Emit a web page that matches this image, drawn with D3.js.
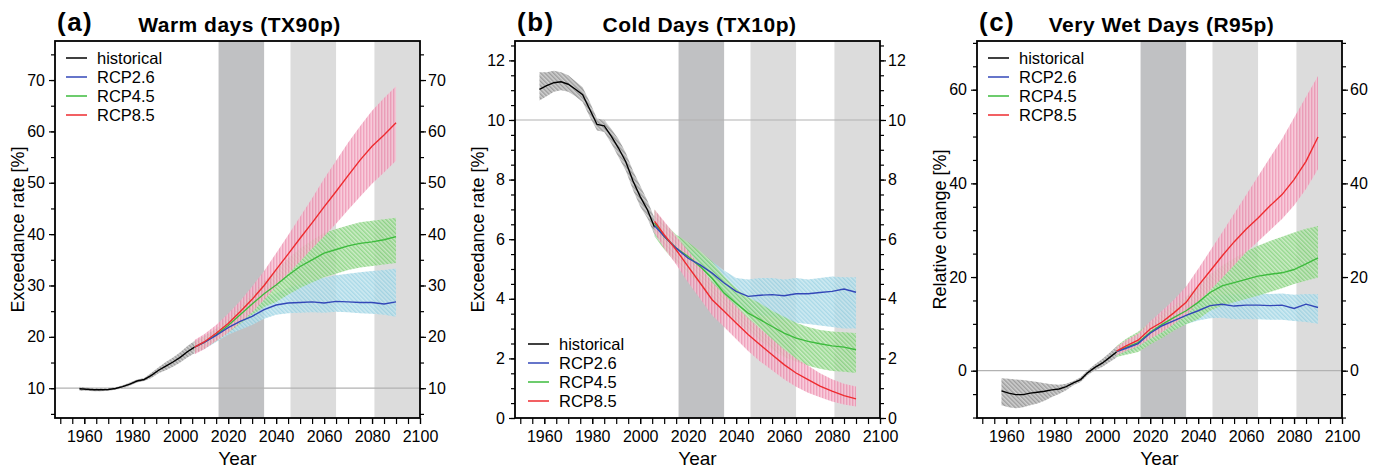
<!DOCTYPE html>
<html><head><meta charset="utf-8">
<script src="https://cdn.jsdelivr.net/npm/d3@7"></script>
<style>
body{margin:0;background:#fff}
svg{display:block}
text{font-family:"Liberation Sans",Arial,Helvetica,sans-serif;fill:#000}
</style>
</head><body>
<svg id="chart" width="1384" height="470"></svg>
<script>
// ---------------- data ----------------
const histYears = [1958,1961,1964,1967,1970,1973,1976,1979,1982,1985,1988,1991,1994,1997,2000,2003,2006];
const rcpYears  = [2006,2010,2015,2020,2025,2030,2035,2040,2045,2050,2055,2060,2065,2070,2075,2080,2085,2090];

const periodStart = [2016, 2046, 2081];
const periodEnd   = [2035, 2065, 2100];

const seriesNames = ["historical","RCP2.6","RCP4.5","RCP8.5"];
const panelLetters = ["(a)","(b)","(c)"];
const panelTitles = ["Warm days (TX90p)","Cold Days (TX10p)","Very Wet Days (R95p)"];
const yTitles = ["Exceedance rate [%]","Exceedance rate [%]","Relative change [%]"];
const xTickLabels = [1960,1980,2000,2020,2040,2060,2080,2100];
const xMinorTicks = d3.range(1950, 2101, 5);
const yTicksA = [10,20,30,40,50,60,70];
const yTicksB = [0,2,4,6,8,10,12];
const yTicksC = [0,20,40,60];
const refLevels = [10, 10, 0];

// Panel (a) Warm days
const histA   = [9.9,9.8,9.7,9.7,9.75,9.95,10.3,10.8,11.4,11.7,12.5,13.5,14.3,15.1,16.0,17.1,18.0];
const histALo = [9.5,9.5,9.4,9.4,9.5,9.7,10.0,10.5,11.1,11.4,12.0,12.9,13.5,14.2,15.0,16.0,16.8];
const histAHi = [10.3,10.1,10.0,10.0,10.0,10.2,10.6,11.1,11.7,12.0,13.0,14.1,15.1,16.0,17.0,18.2,19.2];
const r26A   = [18.0,18.9,20.3,21.8,23.0,24.0,25.3,26.2,26.6,26.7,26.8,26.6,26.9,26.8,26.7,26.7,26.4,26.8];
const r26ALo = [16.8,17.6,19.0,20.4,21.4,22.3,23.5,24.3,24.6,24.7,24.8,24.7,24.9,24.8,24.6,24.5,24.3,23.9];
const r26AHi = [19.2,20.2,21.6,23.2,24.8,26.0,27.5,28.5,29.5,30.3,31.0,31.5,32.0,32.3,32.6,32.8,33.0,33.3];
const r45A   = [18.0,18.9,20.4,22.2,24.3,26.4,28.4,30.1,32.0,33.7,35.0,36.3,37.0,37.7,38.2,38.5,38.9,39.5];
const r45ALo = [16.9,17.7,19.2,20.8,22.5,24.3,25.8,26.8,28.2,29.5,30.6,31.6,32.3,33.0,33.5,33.8,34.1,34.4];
const r45AHi = [19.1,20.1,21.6,23.6,26.0,28.4,30.8,33.0,35.3,37.2,38.8,40.2,41.0,41.7,42.3,42.6,42.9,43.2];
const r85A   = [18.0,19.0,20.7,22.6,24.9,27.3,30.0,33.1,36.1,39.2,42.2,45.3,48.3,51.4,54.4,57.1,59.3,61.7];
const r85ALo = [16.6,17.6,19.2,20.8,22.8,24.8,27.2,29.8,32.3,34.7,37.2,39.6,42.0,44.7,47.3,49.8,52.0,54.3];
const r85AHi = [19.4,20.5,22.3,24.5,27.0,29.8,32.8,36.3,39.8,43.4,47.0,50.8,54.3,57.8,61.0,64.0,66.5,68.8];

// Panel (b) Cold days
const histB   = [11.03,11.15,11.25,11.28,11.2,11.03,10.85,10.35,9.85,9.8,9.45,9.05,8.6,7.95,7.43,6.99,6.4];
const histBLo = [10.65,10.8,10.95,11.0,10.95,10.8,10.6,10.1,9.65,9.6,9.2,8.75,8.3,7.65,7.1,6.7,6.15];
const histBHi = [11.6,11.6,11.65,11.6,11.5,11.3,11.1,10.6,10.05,10.0,9.7,9.35,8.9,8.3,7.8,7.3,6.7];
const r26B   = [6.45,6.1,5.7,5.36,5.14,4.86,4.53,4.25,4.08,4.12,4.14,4.1,4.17,4.17,4.21,4.25,4.33,4.22];
const r26BLo = [6.1,5.75,5.35,5.0,4.7,4.4,4.05,3.75,3.55,3.45,3.4,3.3,3.2,3.15,3.1,3.05,3.0,3.0];
const r26BHi = [6.8,6.45,6.05,5.7,5.5,5.25,4.95,4.7,4.65,4.7,4.7,4.65,4.7,4.65,4.7,4.75,4.72,4.72];
const r45B   = [6.54,6.09,5.7,5.42,5.08,4.69,4.19,3.85,3.52,3.30,3.07,2.85,2.68,2.57,2.49,2.42,2.38,2.29];
const r45BLo = [6.1,5.65,5.2,4.85,4.5,4.05,3.6,3.25,2.9,2.6,2.3,2.05,1.9,1.75,1.65,1.58,1.55,1.51];
const r45BHi = [7.0,6.55,6.15,5.9,5.6,5.25,4.75,4.35,4.05,3.85,3.6,3.4,3.2,3.05,2.95,2.9,2.88,2.85];
const r85B   = [6.6,6.15,5.64,5.08,4.53,3.97,3.58,3.19,2.80,2.46,2.12,1.79,1.51,1.29,1.07,0.90,0.75,0.64];
const r85BLo = [6.2,5.7,5.15,4.55,4.0,3.45,3.05,2.65,2.25,1.9,1.6,1.3,1.05,0.85,0.7,0.55,0.45,0.39];
const r85BHi = [7.0,6.6,6.1,5.6,5.1,4.55,4.15,3.75,3.35,3.0,2.65,2.3,2.0,1.75,1.5,1.3,1.15,1.06];

// Panel (c) Very wet days
const histC   = [-4.3,-4.8,-5.1,-5.1,-4.8,-4.6,-4.4,-4.1,-3.9,-3.4,-2.6,-1.9,-0.4,0.7,1.6,2.8,4.0];
const histCLo = [-7.4,-7.8,-8.0,-7.8,-7.4,-7.0,-6.4,-5.6,-5.0,-4.2,-3.1,-2.4,-0.9,0.1,0.8,1.8,2.8];
const histCHi = [-1.6,-1.7,-1.9,-2.0,-2.2,-2.4,-2.7,-2.9,-3.0,-2.8,-2.2,-1.4,0.1,1.4,2.5,3.8,5.2];
const r26C   = [4.1,4.8,5.8,8.0,9.6,10.7,11.8,12.8,13.9,14.2,13.8,14.0,14.0,13.9,14.0,13.3,14.2,13.5];
const r26CLo = [3.2,3.6,4.5,6.3,7.8,8.9,9.9,10.7,11.2,11.3,11.0,11.0,11.0,10.9,10.9,10.6,10.4,10.0];
const r26CHi = [5.0,6.0,7.2,9.6,11.2,12.6,13.8,15.0,15.8,16.2,16.3,16.4,16.5,16.4,16.5,16.2,16.4,16.3];
const r45C   = [4.1,5.0,6.0,8.2,9.9,11.4,12.8,14.6,16.7,18.1,18.8,19.5,20.2,20.6,20.9,21.6,22.8,24.1];
const r45CLo = [2.9,3.4,4.0,5.6,7.0,8.6,9.9,11.0,12.8,13.9,14.6,15.3,16.0,16.8,17.6,18.5,19.2,19.9];
const r45CHi = [5.3,6.8,8.3,10.3,12.3,14.0,15.8,18.1,20.6,22.4,24.0,25.5,26.7,27.7,28.6,29.5,30.3,30.9];
const r85C   = [4.2,5.3,6.5,8.9,10.4,12.4,14.6,18.1,21.3,24.5,27.5,30.2,32.6,35.2,37.6,40.8,44.7,49.9];
const r85CLo = [3.3,4.2,5.2,6.8,8.2,10.0,11.8,14.6,17.2,19.8,22.5,25.3,27.6,30.0,32.4,35.3,38.8,43.0];
const r85CHi = [5.1,6.5,7.9,10.5,12.8,15.2,18.0,21.7,25.6,29.5,33.5,37.5,41.5,45.5,49.5,54.0,58.5,62.9];

// ---------------- layout / style ----------------
const svg = d3.select("#chart");
const defs = svg.append("defs");
const TOP = 41, BOTTOM = 418, PW = 365;
const lefts = [55, 515, 977];
const lineColors = ["#000000","#3347b8","#3dbb3d","#ee2b2f"];
const hatchDefs = [
  {id:"h-hist", bg:"#cdcdcd", fg:"#8e8e8e", ang:-45},
  {id:"h-r26", bg:"#c6e6ef", fg:"#8ccde0", ang:-45},
  {id:"h-r45", bg:"#c2e8ba", fg:"#6fca66", ang:-45},
  {id:"h-r85", bg:"#f6c0d2", fg:"#ec86aa", ang:0}
];
hatchDefs.forEach(h => {
  const p = defs.append("pattern").attr("id", h.id).attr("patternUnits","userSpaceOnUse")
    .attr("width",3).attr("height",3).attr("patternTransform",`rotate(${h.ang})`);
  p.append("rect").attr("width",3).attr("height",3).attr("fill",h.bg);
  p.append("line").attr("x1",0.75).attr("y1",0).attr("x2",0.75).attr("y2",3)
    .attr("stroke",h.fg).attr("stroke-width",1.2);
});

const panels = [
  {dom:[4.2,77.6], major:yTicksA, minor:d3.range(5,76,5), hist:[histA,histALo,histAHi],
   rcp:[[r26A,r26ALo,r26AHi],[r45A,r45ALo,r45AHi],[r85A,r85ALo,r85AHi]], legend:"top"},
  {dom:[0,12.65], major:yTicksB, minor:d3.range(0,12.6,0.5), hist:[histB,histBLo,histBHi],
   rcp:[[r26B,r26BLo,r26BHi],[r45B,r45BLo,r45BHi],[r85B,r85BLo,r85BHi]], legend:"bottom"},
  {dom:[-10.1,70.4], major:yTicksC, minor:d3.range(-10,71,5), hist:[histC,histCLo,histCHi],
   rcp:[[r26C,r26CLo,r26CHi],[r45C,r45CLo,r45CHi],[r85C,r85CLo,r85CHi]], legend:"top"}
];

panels.forEach((P, i) => {
  const L = lefts[i], R = L + PW;
  const g = svg.append("g");
  const x = d3.scaleLinear().domain([1947.8, 2100]).range([L, R]);
  const y = d3.scaleLinear().domain(P.dom).range([BOTTOM, TOP]);

  // period shading
  periodStart.forEach((s, k) => {
    g.append("rect").attr("x", x(s)).attr("y", TOP)
      .attr("width", x(periodEnd[k]) - x(s)).attr("height", BOTTOM - TOP)
      .attr("fill", k === 0 ? "#c0c1c3" : "#dcdcdc");
  });
  // reference line
  g.append("line").attr("x1", L).attr("x2", R).attr("y1", y(refLevels[i])).attr("y2", y(refLevels[i]))
    .attr("stroke", "#b2b2b2").attr("stroke-width", 1.2);

  const area = d3.area().x(d => x(d.t)).y0(d => y(d.lo)).y1(d => y(d.hi));
  const line = d3.line().x(d => x(d.t)).y(d => y(d.v));
  const mk = (yrs, arr) => yrs.map((t, j) => ({t, v: arr[0][j], lo: arr[1][j], hi: arr[2][j]}));

  const histData = mk(histYears, P.hist);
  const rcpData = P.rcp.map(a => mk(rcpYears, a));

  g.append("path").datum(histData).attr("d", area).attr("fill", "url(#h-hist)").attr("opacity", 0.95);
  [0,1,2].forEach(k => {
    g.append("path").datum(rcpData[k]).attr("d", area)
      .attr("fill", `url(#${hatchDefs[k+1].id})`).attr("opacity", 0.82);
  });
  g.append("path").datum(histData).attr("d", line).attr("fill","none")
    .attr("stroke", lineColors[0]).attr("stroke-width", 1.4);
  [1,0,2].forEach(k => {
    g.append("path").datum(rcpData[k]).attr("d", line).attr("fill","none")
      .attr("stroke", lineColors[k+1]).attr("stroke-width", 1.4);
  });

  // frame
  g.append("rect").attr("x", L).attr("y", TOP).attr("width", PW).attr("height", BOTTOM - TOP)
    .attr("fill","none").attr("stroke","#000").attr("stroke-width",1.8);

  // axes
  const styleAxis = sel => { sel.select(".domain").remove(); sel.selectAll("line").attr("stroke","#000").attr("stroke-width",1.2);
    sel.selectAll("text").style("font-size","16px").attr("fill","#000"); };
  g.append("g").attr("transform",`translate(0,${BOTTOM})`)
    .call(d3.axisBottom(x).tickValues(xMinorTicks).tickSize(6).tickFormat("")).call(styleAxis);
  g.append("g").attr("transform",`translate(0,${BOTTOM})`)
    .call(d3.axisBottom(x).tickValues(xTickLabels).tickSize(6).tickPadding(7).tickFormat(d3.format("d"))).call(styleAxis);
  [["L",L],["R",R]].forEach(([side, pos]) => {
    const ax = side === "L" ? d3.axisLeft(y) : d3.axisRight(y);
    const ax2 = side === "L" ? d3.axisLeft(y) : d3.axisRight(y);
    g.append("g").attr("transform",`translate(${pos},0)`)
      .call(ax.tickValues(P.minor).tickSize(4).tickFormat("")).call(styleAxis);
    g.append("g").attr("transform",`translate(${pos},0)`)
      .call(ax2.tickValues(P.major).tickSize(6).tickPadding(side === "L" ? 4 : 2).tickFormat(d3.format("d"))).call(styleAxis);
  });

  // labels
  g.append("text").attr("x", (L + R) / 2).attr("y", 465).attr("text-anchor","middle")
    .style("font-size","19px").text("Year");
  g.append("text").attr("transform", `translate(${L - 31},${(TOP + BOTTOM) / 2}) rotate(-90)`)
    .attr("text-anchor","middle").style("font-size","18px").text(yTitles[i]);
  g.append("text").attr("x", L + 2).attr("y", 31).style("font-size","26px").style("font-weight","bold")
    .style("letter-spacing","1.5px").text(panelLetters[i]);
  g.append("text").attr("x", (L + R) / 2 + 2).attr("y", 32).attr("text-anchor","middle")
    .style("font-size","21px").style("font-weight","bold").style("letter-spacing","0.5px").text(panelTitles[i]);

  // legend
  const lg = g.append("g");
  const top = P.legend === "top";
  const y0 = top ? 63.5 : 349.5;
  const lx0 = L + (top ? 11 : 13), lx1 = L + (top ? 32 : 34), tx = L + (top ? 42 : 44);
  seriesNames.forEach((n, k) => {
    const yy = y0 + k * 19;
    lg.append("line").attr("x1", lx0).attr("x2", lx1).attr("y1", yy - 5.5).attr("y2", yy - 5.5)
      .attr("stroke", lineColors[k]).attr("stroke-width", 1.5);
    lg.append("text").attr("x", tx).attr("y", yy).style("font-size","16.5px").text(n);
  });
});
</script>
</body></html>
